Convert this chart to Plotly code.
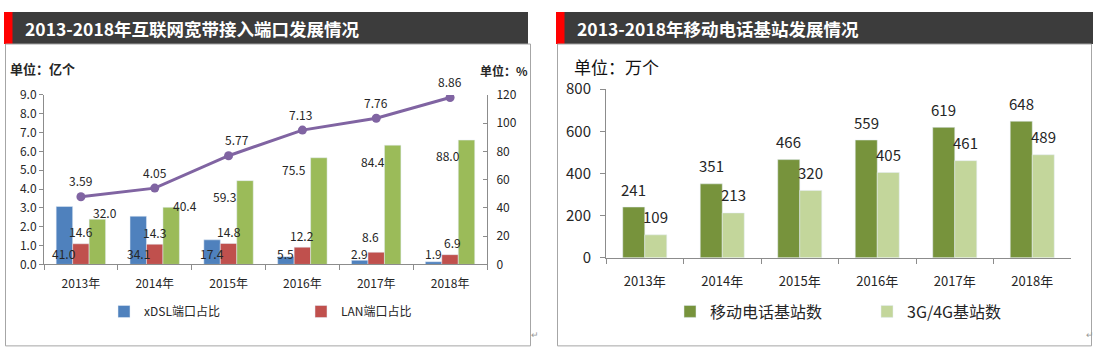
import plotly.graph_objects as go

W, H = 1105, 361

# ---------------- data ----------------
years = ["2013年", "2014年", "2015年", "2016年", "2017年", "2018年"]
xdsl_pct = [41.0, 34.1, 17.4, 5.5, 2.9, 1.9]
lan_pct = [14.6, 14.3, 14.8, 12.2, 8.6, 6.9]
ftth_pct = [32.0, 40.4, 59.3, 75.5, 84.4, 88.0]
ports_total = [3.59, 4.05, 5.77, 7.13, 7.76, 8.86]

mobile_bs = [241, 351, 466, 559, 619, 648]
bs_3g4g = [109, 213, 320, 405, 461, 489]

# ---------------- styles ----------------
FONT = "Noto Sans CJK SC, Noto Sans, sans-serif"
BLUE, RED, GREEN, PURPLE = "#4F81BD", "#C0504D", "#9BBB59", "#8064A2"
DGREEN, LGREEN = "#77933C", "#C3D69B"
AXIS = "#8c8c8c"
TXT = "#262626"

# bar geometry (category units)
LW = 0.223
L_OFF = [-0.335, -0.112, 0.111]
RW = 0.284
R_OFF = [-0.284, 0.0]

# label nudges (pixels)
RED_DX = [0, 0, 0, 0, -6, 2]
RED_DY = [12, 12, 12, 12, 16, 12]
GREEN_DX = [8, 14, -21, -25, -20, -19]
GREEN_DY = [7, 2, -16, -12, -16, -15]
LINE_DX = [0, 0, 8, -2, 0, 0]


def px(x):
    return x / W


def py(y):
    return 1 - y / H


fig = go.Figure()

# ---- left chart ----
fig.add_trace(go.Bar(x=years, y=xdsl_pct, name="xDSL端口占比", marker_color=BLUE,
                     width=LW, offset=L_OFF[0], xaxis="x", yaxis="y2", legend="legend"))
fig.add_trace(go.Bar(x=years, y=lan_pct, name="LAN端口占比", marker_color=RED,
                     width=LW, offset=L_OFF[1], xaxis="x", yaxis="y2", legend="legend"))
fig.add_trace(go.Bar(x=years, y=ftth_pct, name="FTTH/O端口占比", marker_color=GREEN,
                     width=LW, offset=L_OFF[2], xaxis="x", yaxis="y2", showlegend=False))
fig.add_trace(go.Scatter(x=years, y=ports_total, mode="lines+markers", name="端口总数",
                         line=dict(color=PURPLE, width=3), marker=dict(size=9, color=PURPLE),
                         xaxis="x", yaxis="y", showlegend=False))

# ---- right chart ----
fig.add_trace(go.Bar(x=years, y=mobile_bs, name="移动电话基站数", marker_color=DGREEN,
                     width=RW, offset=R_OFF[0], xaxis="x3", yaxis="y3", legend="legend2"))
fig.add_trace(go.Bar(x=years, y=bs_3g4g, name="3G/4G基站数", marker_color=LGREEN,
                     width=RW, offset=R_OFF[1], xaxis="x3", yaxis="y3", legend="legend2"))

ann = []
lab = dict(size=12, color=TXT, family=FONT)
for i in range(len(years)):
    ann.append(dict(x=i + L_OFF[0] + LW / 2, y=0, xref="x", yref="y2", text=f"{xdsl_pct[i]:.1f}",
                    showarrow=False, yshift=11, font=lab))
    ann.append(dict(x=i + L_OFF[1] + LW / 2, y=lan_pct[i], xref="x", yref="y2", text=f"{lan_pct[i]:.1f}",
                    showarrow=False, yshift=RED_DY[i], xshift=RED_DX[i], font=lab))
    ann.append(dict(x=i + L_OFF[2] + LW / 2, y=ftth_pct[i], xref="x", yref="y2", text=f"{ftth_pct[i]:.1f}",
                    showarrow=False, yshift=GREEN_DY[i], xshift=GREEN_DX[i], font=lab))
    ann.append(dict(x=i, y=ports_total[i], xref="x", yref="y", text=f"{ports_total[i]:.2f}",
                    showarrow=False, yshift=16, xshift=LINE_DX[i], font=lab))
    ann.append(dict(x=i + R_OFF[0] + RW / 2, y=mobile_bs[i], xref="x3", yref="y3", text=str(mobile_bs[i]),
                    showarrow=False, yshift=18, font=dict(size=15, color=TXT, family=FONT)))
    ann.append(dict(x=i + R_OFF[1] + RW / 2, y=bs_3g4g[i], xref="x3", yref="y3", text=str(bs_3g4g[i]),
                    showarrow=False, yshift=18, font=dict(size=15, color=TXT, family=FONT)))

# titles and unit labels
ann += [
    dict(x=px(23), y=py(17), xref="paper", yref="paper", xanchor="left", yanchor="middle",
         text="<b>2013-2018年互联网宽带接入端口发展情况</b>", showarrow=False,
         font=dict(size=17.5, color="white", family=FONT)),
    dict(x=px(575), y=py(17), xref="paper", yref="paper", xanchor="left", yanchor="middle",
         text="<b>2013-2018年移动电话基站发展情况</b>", showarrow=False,
         font=dict(size=17.5, color="white", family=FONT)),
    dict(x=px(8), y=py(60), xref="paper", yref="paper", xanchor="left", yanchor="middle",
         text="<b>单位：亿个</b>", showarrow=False, font=dict(size=13, color=TXT, family=FONT)),
    dict(x=px(478), y=py(62), xref="paper", yref="paper", xanchor="left", yanchor="middle",
         text="<b>单位：%</b>", showarrow=False, font=dict(size=12, color=TXT, family=FONT)),
    dict(x=px(572), y=py(58), xref="paper", yref="paper", xanchor="left", yanchor="middle",
         text="单位：万个", showarrow=False, font=dict(size=17, color="#111111", family=FONT)),
    dict(x=px(535), y=py(351), xref="paper", yref="paper", text="↵", showarrow=False,
         font=dict(size=9, color="#999999", family=FONT)),
    dict(x=px(1096), y=py(351), xref="paper", yref="paper", text="↵", showarrow=False,
         font=dict(size=9, color="#999999", family=FONT)),
]

shapes = [
    # header bars
    dict(type="rect", xref="paper", yref="paper", x0=px(4), x1=px(528), y0=py(34), y1=py(0),
         fillcolor="#3c3c3c", line_width=0, layer="below"),
    dict(type="rect", xref="paper", yref="paper", x0=px(4), x1=px(12.5), y0=py(34), y1=py(0),
         fillcolor="#ff0000", line_width=0, layer="below"),
    dict(type="rect", xref="paper", yref="paper", x0=px(556), x1=px(1093), y0=py(34), y1=py(0),
         fillcolor="#3c3c3c", line_width=0, layer="below"),
    dict(type="rect", xref="paper", yref="paper", x0=px(556), x1=px(564.5), y0=py(34), y1=py(0),
         fillcolor="#ff0000", line_width=0, layer="below"),
    # boxes
    dict(type="rect", xref="paper", yref="paper", x0=px(5.5), x1=px(530.5), y0=py(354.5), y1=py(34),
         line=dict(color="#a6a6a6", width=1), layer="below"),
    dict(type="rect", xref="paper", yref="paper", x0=px(557.5), x1=px(1091.5), y0=py(354.5), y1=py(34),
         line=dict(color="#a6a6a6", width=1), layer="below"),
]

xcommon = dict(type="category", showgrid=False, showline=True, linecolor=AXIS, linewidth=1,
               ticks="outside", tickson="boundaries", tickcolor=AXIS, ticklen=5, zeroline=False)

fig.update_layout(
    width=W, height=H,
    margin=dict(l=0, r=0, t=0, b=0),
    paper_bgcolor="white", plot_bgcolor="rgba(0,0,0,0)",
    font=dict(family=FONT, color=TXT),
    barmode="group",
    shapes=shapes,
    annotations=ann,
    xaxis=dict(**xcommon, domain=[px(44), px(487)], anchor="y",
               tickfont=dict(size=12, color=TXT), ticklabelstandoff=8),
    yaxis=dict(domain=[py(268), py(88)], range=[0, 9], dtick=1, tickformat=".1f",
               showgrid=False, showline=True, linecolor=AXIS, ticks="outside", ticklen=4,
               tickcolor=AXIS, zeroline=False, tickfont=dict(size=12, color=TXT), anchor="x"),
    yaxis2=dict(overlaying="y", side="right", anchor="x", range=[0, 120], dtick=20,
                showgrid=False, showline=True, linecolor=AXIS, ticks="inside", ticklen=4,
                tickcolor=AXIS, zeroline=False, tickfont=dict(size=12, color=TXT),
                ticklabelstandoff=6),
    xaxis3=dict(**xcommon, domain=[px(606), px(1071)], anchor="y3",
                tickfont=dict(size=13, color=TXT), ticklabelstandoff=12),
    yaxis3=dict(domain=[py(261), py(82)], range=[0, 800], dtick=200, anchor="x3",
                showgrid=False, showline=True, linecolor=AXIS, ticks="outside", ticklen=5,
                tickcolor=AXIS, zeroline=False, tickfont=dict(size=15, color=TXT),
                ticklabelstandoff=6),
    legend=dict(orientation="h", x=px(104), xanchor="left", y=py(318), yanchor="middle",
                entrywidth=152, font=dict(size=12, color=TXT, family=FONT),
                bgcolor="rgba(0,0,0,0)", itemclick=False),
    legend2=dict(orientation="h", x=px(670), xanchor="left", y=py(318), yanchor="middle",
                 entrywidth=152, font=dict(size=16, color=TXT, family=FONT),
                 bgcolor="rgba(0,0,0,0)", itemclick=False),
)

fig.write_html("out.html", config={"displayModeBar": False},
               post_script="document.body.style.margin='0';document.body.style.overflow='hidden';")
